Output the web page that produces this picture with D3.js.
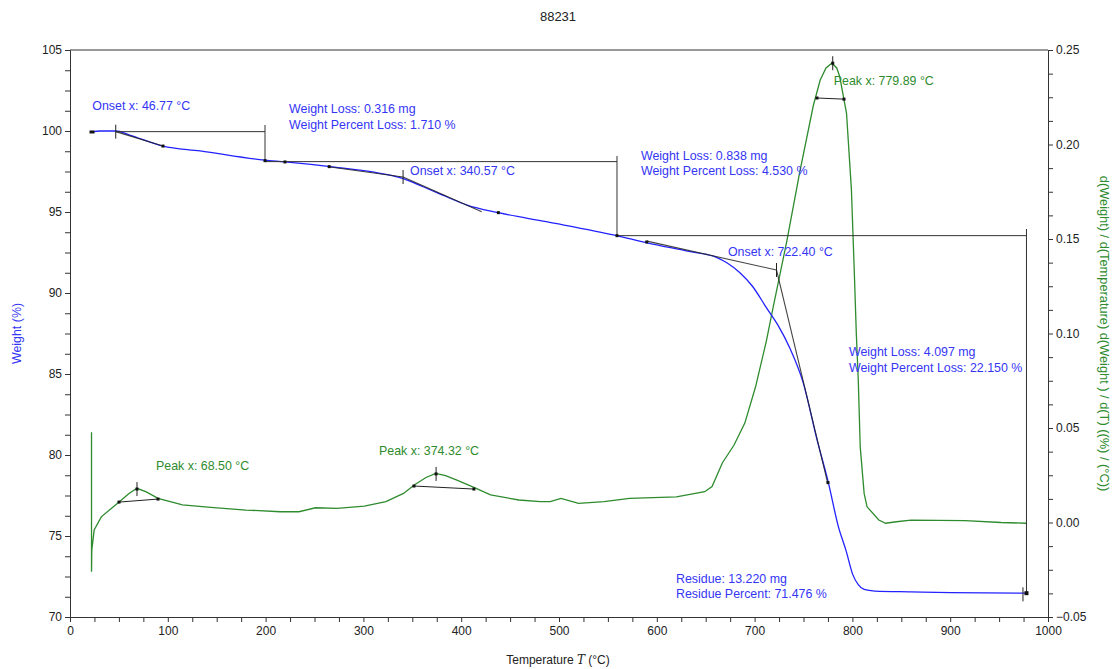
<!DOCTYPE html>
<meta charset="utf-8">
<head>
<title>88231</title>
<style>
  body { margin: 0; background: #fff; }
  text { font-family: "Liberation Sans", Arial, sans-serif; }
  .axis text { font-size: 12px; fill: #222; }
  .axis path, .axis line { stroke: #333; }
  .blue-txt { fill: #3535f5; font-size: 12.4px; }
  .green-txt { fill: #2e8b2e; font-size: 12.4px; }
</style>
</head>
<body>
<svg width="1115" height="669"></svg>

<script src="https://cdn.jsdelivr.net/npm/d3@7"></script>
<script>

// weight curve (Weight %) vs temperature (°C)
var tempW = [22, 31, 47, 61, 95, 133, 199, 220, 266, 317, 340, 361, 385, 406, 438, 487, 559, 590, 630, 661, 672, 685, 698, 712, 724, 736, 749.5, 764, 775, 786, 793.5, 800.5, 806, 812, 823, 860, 901, 978];
var weight = [99.94, 100.0, 100.0, 99.75, 99.07, 98.77, 98.2, 98.09, 97.8, 97.39, 97.08, 96.56, 95.94, 95.43, 94.96, 94.4, 93.54, 93.1, 92.6, 92.2, 91.85, 91.25, 90.4, 89.1, 88.0, 86.6, 84.5, 80.9, 78.4, 75.5, 74.1, 72.6, 72.0, 71.7, 71.6, 71.55, 71.5, 71.47];

// derivative curve d(Weight)/d(T) (%/°C)
var tempD = [22, 22, 22.3, 24.7, 32, 50.5, 60, 68.5, 78, 90, 115, 144, 180, 215, 234, 251, 273, 301, 323, 341, 352, 364, 374, 384, 395, 413, 430, 459, 481, 491, 502, 520, 546, 572, 620, 649, 656.5, 667, 679, 690, 701, 712, 719, 733, 746, 760, 767, 773, 779, 784, 787, 794, 799, 802, 804, 806, 808, 812, 815, 827, 834, 845, 860, 915, 952, 978];
var dtg = [0.0478, -0.026, -0.0146, -0.004, 0.003, 0.011, 0.0152, 0.0181, 0.0162, 0.0128, 0.0093, 0.008, 0.0066, 0.0057, 0.0057, 0.0078, 0.0075, 0.0087, 0.011, 0.0154, 0.0198, 0.0238, 0.026, 0.0248, 0.0225, 0.0186, 0.0146, 0.0119, 0.011, 0.011, 0.0128, 0.0101, 0.011, 0.0128, 0.0136, 0.0163, 0.019, 0.0315, 0.041, 0.0526, 0.0718, 0.096, 0.114, 0.149, 0.185, 0.2205, 0.234, 0.2405, 0.243, 0.2405, 0.236, 0.2165, 0.176, 0.1318, 0.100, 0.0754, 0.040, 0.0154, 0.0083, 0.0013, -0.0004, 0.0004, 0.0013, 0.001, 0.0, -0.0004];

// tick values
var xTicks = d3.range(0, 1001, 25);
var yTicks = d3.range(70, 105.01, 1.25);
var y2Ticks = d3.range(-4, 21).map(function(i) { return i * 0.0125; });

// step lines of the weight loss analysis [T, W]
var stepLines = [
  [[46.77, 99.96], [199.4, 99.96]],
  [[199.4, 100.37], [199.4, 98.17]],
  [[199.4, 98.11], [559.3, 98.11]],
  [[559.3, 98.46], [559.3, 93.54]],
  [[559.3, 93.54], [978, 93.54]],
  [[978, 93.95], [978, 71.36]]
];

// onset tangents [T, W]
var tangents = [
  [[46.77, 99.96], [95.1, 99.07]],
  [[266, 97.78], [340.57, 97.16]],
  [[340.57, 97.16], [421, 95.02]],
  [[590, 93.2], [722.4, 91.42]],
  [[722.4, 91.42], [775, 78.2]]
];
var onsetTicks = [[46.77, 99.96], [340.57, 97.16], [722.4, 91.42], [974.4, 71.4]];
var weightMarks = [[95.1, 99.07], [199.4, 98.17], [219.8, 98.09], [265, 97.8], [438, 94.96], [559.3, 93.54], [589.7, 93.15], [775, 78.3]];

// peaks on the derivative [T, D]
var peakTicks = [[68.5, 0.0177], [374.32, 0.0257], [779.89, 0.243]];
var peakBases = [
  [[50.1, 0.0108], [90, 0.0124]],
  [[351.7, 0.0193], [413, 0.0177]],
  [[763.8, 0.2246], [791.4, 0.224]]
];

// labels: [text, T, value] on weight axis / derivative axis
var blueLabels = [
  ["Onset x: 46.77 °C", 22.8, 101.3],
  ["Weight Loss: 0.316 mg", 224, 101.1],
  ["Weight Percent Loss: 1.710 %", 224, 100.1],
  ["Onset x: 340.57 °C", 347.7, 97.3],
  ["Weight Loss: 0.838 mg", 583.8, 98.2],
  ["Weight Percent Loss: 4.530 %", 583.8, 97.3],
  ["Onset x: 722.40 °C", 672.8, 92.3],
  ["Weight Loss: 4.097 mg", 796.5, 86.1],
  ["Weight Percent Loss: 22.150 %", 796.5, 85.1],
  ["Residue: 13.220 mg", 619.6, 72.1],
  ["Residue Percent: 71.476 %", 619.6, 71.15]
];
var greenLabels = [
  ["Peak x: 68.50 °C", 88, 0.0277],
  ["Peak x: 374.32 °C", 316, 0.0357],
  ["Peak x: 779.89 °C", 781, 0.2315]
];

var svg = d3.select("svg"),
    margin = { top: 50, right: 67, bottom: 52, left: 70 },
    width = +svg.attr("width") - margin.left - margin.right,
    height = +svg.attr("height") - margin.top - margin.bottom;

var x = d3.scaleLinear().domain([0, 1000]).range([margin.left, margin.left + width]);
var y = d3.scaleLinear().domain([70, 105]).range([margin.top + height, margin.top]);
var y2 = d3.scaleLinear().domain([-0.05, 0.25]).range([margin.top + height, margin.top]);

function isMult(v, step) { return Math.abs(v / step - Math.round(v / step)) < 1e-6; }

// axes
svg.append("g").attr("class", "axis")
    .attr("transform", "translate(0," + (margin.top + height) + ")")
    .call(d3.axisBottom(x).tickValues(xTicks).tickSizeOuter(0).tickSize(5).tickPadding(4)
      .tickFormat(function(d) { return isMult(d, 100) ? d : ""; }));

svg.append("g").attr("class", "axis")
    .attr("transform", "translate(" + margin.left + ",0)")
    .call(d3.axisLeft(y).tickValues(yTicks).tickSizeOuter(0).tickSize(5).tickPadding(3)
      .tickFormat(function(d) { return isMult(d, 5) ? d : ""; }));

svg.append("g").attr("class", "axis")
    .attr("transform", "translate(" + (margin.left + width) + ",0)")
    .call(d3.axisRight(y2).tickValues(y2Ticks).tickSizeOuter(0).tickSize(5).tickPadding(3)
      .tickFormat(function(d) { return isMult(d, 0.05) ? d3.format(".2f")(d) : ""; }));

// top frame line
svg.append("line")
    .attr("x1", x(0)).attr("x2", x(1000))
    .attr("y1", y(105)).attr("y2", y(105))
    .attr("stroke", "#333");

// titles
svg.append("text").attr("x", 558).attr("y", 21)
    .attr("text-anchor", "middle").style("font-size", "13px").style("fill", "#222")
    .text("88231");

var xl = svg.append("text").attr("x", 558).attr("y", 664)
    .attr("text-anchor", "middle").style("font-size", "12px").style("fill", "#222");
xl.append("tspan").text("Temperature ");
xl.append("tspan").style("font-style", "italic").style("font-family", "DejaVu Serif").text("T");
xl.append("tspan").text(" (°C)");

svg.append("text")
    .attr("transform", "translate(21," + y(87.5) + ") rotate(-90)")
    .attr("text-anchor", "middle").attr("class", "blue-txt")
    .text("Weight (%)");

svg.append("text")
    .attr("transform", "translate(1100," + y(87.5) + ") rotate(90)")
    .attr("text-anchor", "middle").attr("class", "green-txt")
    .style("font-size", "12.8px")
    .text("d(Weight) / d(Temperature) d(Weight ) / d(T) ((%) / (°C))");

// curves
var lineW = d3.line()
    .x(function(d, i) { return x(tempW[i]); })
    .y(function(d) { return y(d); })
    .curve(d3.curveMonotoneX);

var lineD = d3.line()
    .x(function(d, i) { return x(tempD[i]); })
    .y(function(d) { return y2(d); });

svg.append("path").datum(dtg)
    .attr("d", lineD)
    .attr("fill", "none").attr("stroke", "#2e8b2e").attr("stroke-width", 1.3);

svg.append("path").datum(weight)
    .attr("d", lineW)
    .attr("fill", "none").attr("stroke", "#2222ff").attr("stroke-width", 1.3);

// analysis lines
var segW = d3.line().x(function(d) { return x(d[0]); }).y(function(d) { return y(d[1]); });
var segD = d3.line().x(function(d) { return x(d[0]); }).y(function(d) { return y2(d[1]); });

svg.selectAll(".step").data(stepLines).enter().append("path")
    .attr("d", segW).attr("stroke", "#333").attr("stroke-width", 1).attr("fill", "none");

svg.selectAll(".tan").data(tangents).enter().append("path")
    .attr("d", segW).attr("stroke", "#222").attr("stroke-width", 1.1).attr("fill", "none")
    .attr("opacity", 0.85);

svg.selectAll(".otick").data(onsetTicks).enter().append("line")
    .attr("x1", function(d) { return x(d[0]); }).attr("x2", function(d) { return x(d[0]); })
    .attr("y1", function(d) { return y(d[1]) - 7; }).attr("y2", function(d) { return y(d[1]) + 7; })
    .attr("stroke", "#222");

svg.selectAll(".wmark").data(weightMarks).enter().append("rect")
    .attr("x", function(d) { return x(d[0]) - 1.5; }).attr("y", function(d) { return y(d[1]) - 1.5; })
    .attr("width", 3).attr("height", 3).attr("fill", "#111");

// start and end markers
svg.append("rect").attr("x", x(tempW[0]) - 2).attr("y", y(weight[0]) - 1.5)
    .attr("width", 5).attr("height", 3).attr("fill", "#111");
svg.append("rect").attr("x", x(tempW[tempW.length - 1]) - 2).attr("y", y(weight[weight.length - 1]) - 2)
    .attr("width", 4).attr("height", 4).attr("fill", "#111");

svg.selectAll(".pbase").data(peakBases).enter().append("path")
    .attr("d", segD).attr("stroke", "#222").attr("stroke-width", 1).attr("fill", "none");

svg.selectAll(".pbmark").data(d3.merge(peakBases)).enter().append("rect")
    .attr("x", function(d) { return x(d[0]) - 1.5; }).attr("y", function(d) { return y2(d[1]) - 1.5; })
    .attr("width", 3).attr("height", 3).attr("fill", "#111");

svg.selectAll(".ptick").data(peakTicks).enter().append("line")
    .attr("x1", function(d) { return x(d[0]); }).attr("x2", function(d) { return x(d[0]); })
    .attr("y1", function(d) { return y2(d[1]) - 7; }).attr("y2", function(d) { return y2(d[1]) + 7; })
    .attr("stroke", "#222");

svg.selectAll(".pmark").data(peakTicks).enter().append("rect")
    .attr("x", function(d) { return x(d[0]) - 1.5; }).attr("y", function(d) { return y2(d[1]) - 1.5; })
    .attr("width", 3).attr("height", 3).attr("fill", "#111");

// labels
svg.selectAll(".bl").data(blueLabels).enter().append("text")
    .attr("class", "blue-txt")
    .attr("x", function(d) { return x(d[1]); })
    .attr("y", function(d) { return y(d[2]); })
    .text(function(d) { return d[0]; });

svg.selectAll(".gl").data(greenLabels).enter().append("text")
    .attr("class", "green-txt")
    .attr("x", function(d) { return x(d[1]); })
    .attr("y", function(d) { return y2(d[2]); })
    .text(function(d) { return d[0]; });

</script>
</body>
</html>
